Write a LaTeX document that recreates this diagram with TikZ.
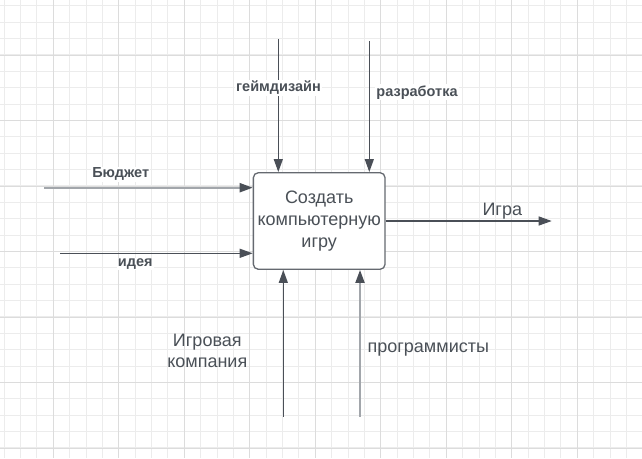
\documentclass[tikz,border=0pt]{standalone}
\usepackage{fontspec}
\setmainfont{Liberation Sans}
\usetikzlibrary{arrows.meta}
\definecolor{linecol}{HTML}{4A4F57}
\definecolor{softcol}{HTML}{A2A6AB}
\definecolor{textcol}{HTML}{4A5057}
\definecolor{minorcol}{HTML}{ECECEC}
\definecolor{majorcol}{HTML}{DCDCDC}
\tikzset{
	% connector styles
	arr/.style={draw=linecol,line width=1.3pt,-{Triangle[length=13pt,width=9pt]}},
	softarr/.style={draw=softcol,line width=2pt,-{Triangle[length=13pt,width=9pt,color=linecol]}},
	% text styles
	lab/.style={text=textcol,font=\fontsize{14.5}{16}\selectfont\bfseries,fill=white,inner sep=1pt},
	txt/.style={text=textcol,font=\fontsize{18}{21.7}\selectfont,align=center,inner sep=1pt}
}
\begin{document}
\begin{tikzpicture}[x=1pt,y=-1pt]
	\useasboundingbox (0,0) rectangle (642,458);
	% background grid
	\fill[white] (0,0) rectangle (642,458);
	\foreach \i in {0,...,39} \draw[minorcol,line width=1pt] (4.2+16.375*\i,0) -- (4.2+16.375*\i,458);
	\foreach \i in {0,...,28} \draw[minorcol,line width=1pt] (0,5.8+16.375*\i) -- (642,5.8+16.375*\i);
	\foreach \i in {0,...,9} \draw[majorcol,line width=1pt] (53.3+65.5*\i,0) -- (53.3+65.5*\i,458);
	\foreach \i in {0,...,6} \draw[majorcol,line width=1pt] (0,55+65.5*\i) -- (642,55+65.5*\i);
	% activity box
	\node[draw=linecol!85,fill=white,line width=1.3pt,rounded corners=5pt,minimum width=131.7pt,minimum height=96.6pt,txt] (box) at (319.2,221) {Создать\\компьютерную\\игру};
	% free ends
	\coordinate (gdtop) at (278.3,39);
	\coordinate (devtop) at (369.3,41);
	\coordinate (budget) at (44,187.7);
	\coordinate (idea) at (60,253.3);
	\coordinate (game) at (551.7,221);
	\coordinate (company) at (283.3,416.7);
	\coordinate (coders) at (360,416.7);
	% connectors
	\draw[arr] (gdtop) -- (gdtop |- box.north);
	\draw[arr] (devtop) -- (devtop |- box.north);
	\draw[softarr] (budget) -- (budget -| box.west);
	\draw[arr] (idea) -- (idea -| box.west);
	\draw[arr] (box.east) -- (game);
	\draw[arr] (company) -- (company |- box.south);
	\draw[softarr] (coders) -- (coders |- box.south);
	% labels
	\node[lab] (gdlab) at (278.5,88) {геймдизайн};
	\node[lab] (devlab) at (417,92.3) {разработка};
	\node[lab] (budlab) at (120.7,174.3) {Бюджет};
	\node[lab] (idealab) at (135.3,264) {идея};
	\node[txt] (gamelab) at (502.3,210.7) {Игра};
	\node[txt] (codlab) at (428.3,349.3) {программисты};
	\node[txt] (comlab) at (207.3,351) {Игровая\\компания};
\end{tikzpicture}
\end{document}
